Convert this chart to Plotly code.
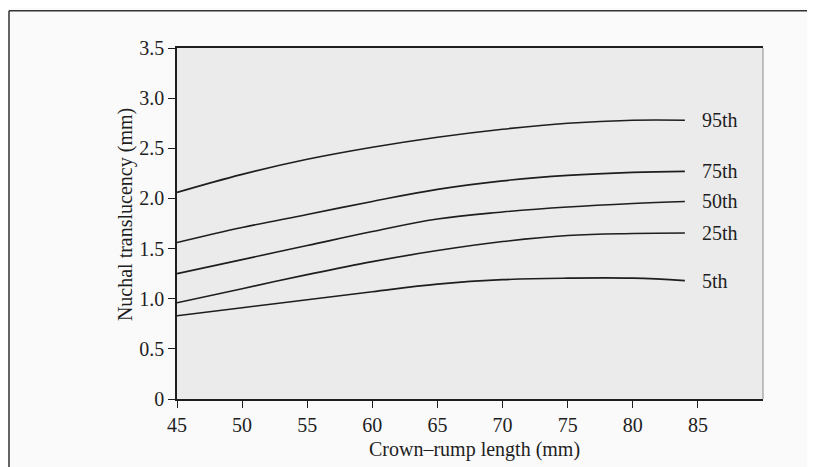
import plotly.graph_objects as go

crl = [45, 50, 55, 60, 65, 70, 75, 80, 84]
p95 = [2.06, 2.24, 2.39, 2.51, 2.61, 2.69, 2.75, 2.78, 2.78]
p75 = [1.56, 1.71, 1.84, 1.97, 2.09, 2.175, 2.23, 2.26, 2.27]
p50 = [1.25, 1.39, 1.53, 1.67, 1.795, 1.865, 1.915, 1.95, 1.97]
p25 = [0.96, 1.10, 1.24, 1.37, 1.48, 1.57, 1.63, 1.65, 1.655]
p5 = [0.83, 0.91, 0.99, 1.07, 1.145, 1.19, 1.205, 1.205, 1.18]
names = ["95th", "75th", "50th", "25th", "5th"]
series = [p95, p75, p50, p25, p5]

x_ticks = [45, 50, 55, 60, 65, 70, 75, 80, 85]
y_ticks = [0, 0.5, 1.0, 1.5, 2.0, 2.5, 3.0, 3.5]
y_tick_text = ["0", "0.5", "1.0", "1.5", "2.0", "2.5", "3.0", "3.5"]
x_title = "Crown–rump length (mm)"
y_title = "Nuchal translucency (mm)"

FONT = "Liberation Serif"
INK = "#1e1e1e"

fig = go.Figure()
for name, vals in zip(names, series):
    fig.add_trace(go.Scatter(x=crl, y=vals, mode="lines", name=name,
                             line=dict(color=INK, width=1.6, shape="spline", smoothing=1.1),
                             showlegend=False, hoverinfo="skip"))
    fig.add_annotation(x=85.2, y=vals[-1], text=name, showarrow=False,
                       xanchor="left", yanchor="middle",
                       font=dict(family=FONT, size=20, color=INK))

# axis titles
fig.add_annotation(xref="paper", yref="paper", x=0.508, y=-0.1425, text=x_title,
                   showarrow=False, xanchor="center", yanchor="middle",
                   font=dict(family=FONT, size=20, color=INK))
fig.add_annotation(xref="paper", yref="paper", x=-0.0887, y=0.524, text=y_title,
                   showarrow=False, textangle=-90, xanchor="center", yanchor="middle",
                   font=dict(family=FONT, size=20, color=INK))

# outer frame of the scanned figure (left and top edges)
fig.add_shape(type="line", xref="paper", yref="paper",
              x0=-0.2867, x1=-0.2867, y0=-0.3, y1=1.106,
              line=dict(color="#333333", width=1.5), layer="below")
fig.add_shape(type="line", xref="paper", yref="paper",
              x0=-0.2867, x1=1.2, y0=1.106, y1=1.106,
              line=dict(color="#333333", width=1.5), layer="below")
# light right edge of the plot panel
fig.add_shape(type="line", xref="paper", yref="paper", x0=1, x1=1, y0=0, y1=1,
              line=dict(color="#8a8a8a", width=1))

fig.update_layout(
    width=807, height=459,
    margin=dict(l=169, r=52, t=40, b=68, autoexpand=False),
    paper_bgcolor="#fafafa",
    plot_bgcolor="#ebebeb",
    font=dict(family=FONT, size=20, color=INK),
    xaxis=dict(range=[45, 90], tickvals=x_ticks, showgrid=False, zeroline=False,
               automargin=False,
               showline=True, linecolor=INK, linewidth=1.6, mirror=True,
               ticks="outside", ticklen=7, tickwidth=1.3, tickcolor=INK,
               tickfont=dict(family=FONT, size=20, color=INK)),
    yaxis=dict(range=[0, 3.5], tickvals=y_ticks, ticktext=y_tick_text, showgrid=False,
               zeroline=False, automargin=False,
               showline=True, linecolor=INK, linewidth=1.6,
               ticks="outside", ticklen=7, tickwidth=1.3, tickcolor=INK,
               tickfont=dict(family=FONT, size=20, color=INK)),
)

fig.write_html("out.html")
